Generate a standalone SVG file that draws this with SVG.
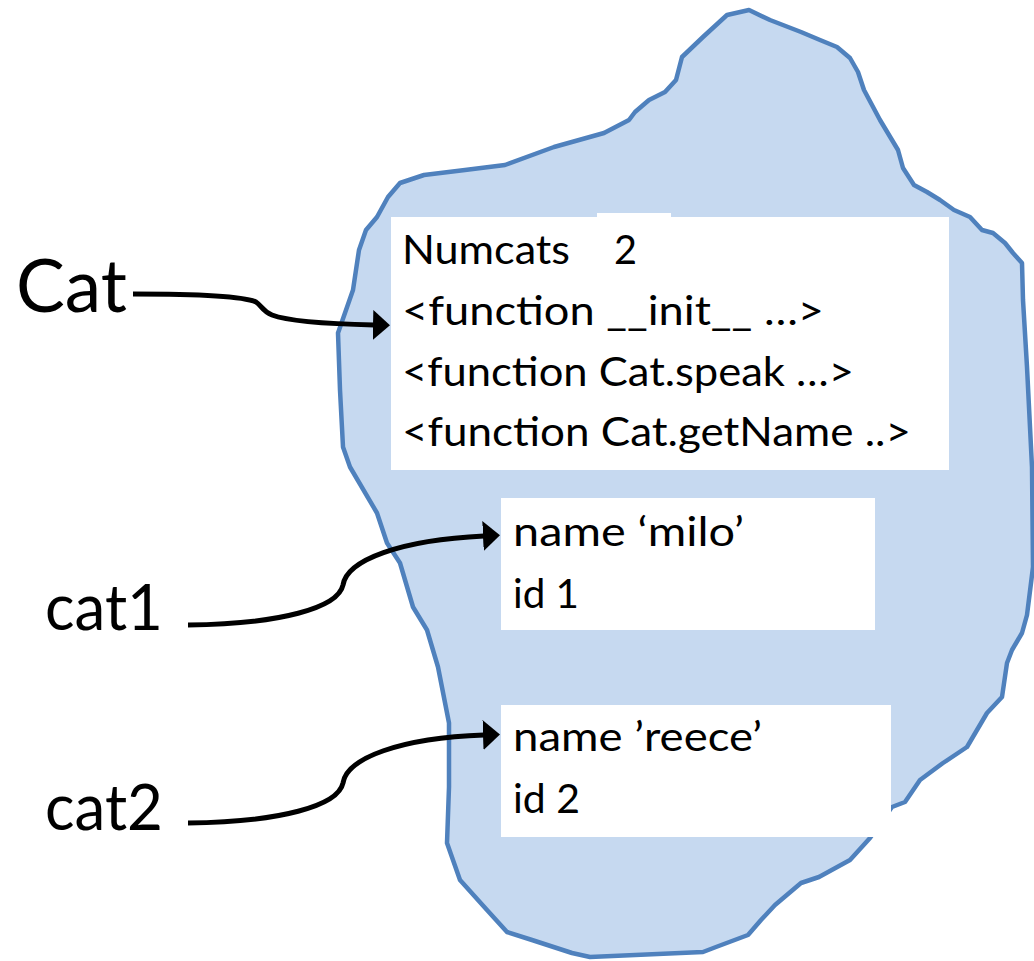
<svg xmlns="http://www.w3.org/2000/svg" width="1034" height="961" viewBox="0 0 1034 961">
<defs>
<style>
.blob{fill:#C6D9F0;stroke:#4F81BD;stroke-width:4.5;stroke-linejoin:round}
.box{fill:#FFFFFF}
.t{font-family:Lato,"Open Sans","Liberation Sans",sans-serif;font-size:41px;fill:#000}
.lbl{font-family:Lato,"Open Sans","Liberation Sans",sans-serif;fill:#000}
.conn{fill:none;stroke:#000;stroke-width:5;stroke-linecap:butt}
</style>
<marker id="arrow" viewBox="0 0 17 30" refX="1" refY="15" markerWidth="17" markerHeight="30" markerUnits="userSpaceOnUse" orient="auto">
<path d="M0,0 L17,15 L0,30 Z" fill="#000"/>
</marker>
</defs>
<rect width="1034" height="961" fill="#FFFFFF"/>
<g id="heap">
<polygon class="blob" points="749,10 770,20 801,32 820,40 837,47 850,58 858,72 864,90 880,120 898,150 903,168 914,185 927,192 940,200 954,210 970,217 982,230 993,233 1005,243 1013,253 1022,263 1023,300 1027,367 1032,467 1033,567 1027,615 1022,633 1012,650 1007,663 1002,697 987,713 967,747 943,763 920,780 905,802 892,807 870,838 850,860 819,877 801,883 775,905 761,920 748,935 716,947 703,952 590,957 572,953 532,940 507,932 487,910 460,880 447,843 449,787 449,723 438,667 427,630 413,607 400,563 387,543 377,513 350,467 343,447 340,390 338,333 353,290 359,250 366,230 377,217 388,197 400,183 424,175 465,170 505,165 554,147 604,133 629,120 635,112 649,100 665,92 676,80 682,57 703,37 727,15"/>
</g>
<g id="class-cat">
<rect class="box" x="391" y="217" width="558" height="253"/>
<rect class="box" x="597" y="213" width="74" height="6"/>
<text class="t" x="402" y="264" textLength="168" lengthAdjust="spacingAndGlyphs">Numcats</text>
<text class="t" x="614" y="264" textLength="23" lengthAdjust="spacingAndGlyphs">2</text>
<text class="t" x="402" y="325" textLength="422" lengthAdjust="spacingAndGlyphs">&lt;function __init__ …&gt;</text>
<text class="t" x="402" y="386" textLength="452" lengthAdjust="spacingAndGlyphs">&lt;function Cat.speak …&gt;</text>
<text class="t" x="402" y="446" textLength="509" lengthAdjust="spacingAndGlyphs">&lt;function Cat.getName ..&gt;</text>
</g>
<g id="obj-milo">
<rect class="box" x="501" y="498" width="374" height="132"/>
<text class="t" x="513" y="546" textLength="231" lengthAdjust="spacingAndGlyphs">name ‘milo’</text>
<text class="t" x="513" y="608" textLength="66" lengthAdjust="spacingAndGlyphs">id 1</text>
</g>
<g id="obj-reece">
<rect class="box" x="501" y="705" width="390" height="132"/>
<text class="t" x="513" y="751" textLength="249" lengthAdjust="spacingAndGlyphs">name ’reece’</text>
<text class="t" x="513" y="813" textLength="67" lengthAdjust="spacingAndGlyphs">id 2</text>
</g>
<g id="label-Cat">
<text class="lbl" x="16" y="312" font-size="74" textLength="111" lengthAdjust="spacingAndGlyphs">Cat</text>
</g>
<g id="label-cat1">
<text class="lbl" x="45" y="630" font-size="63" textLength="118" lengthAdjust="spacingAndGlyphs">cat1</text>
</g>
<g id="label-cat2">
<text class="lbl" x="45" y="830" font-size="63" textLength="118" lengthAdjust="spacingAndGlyphs">cat2</text>
</g>
<g id="connectors">
<path class="conn" marker-end="url(#arrow)" d="M133,294 C200,294 245,297 256,302 C262,306 262,311 272,315 C290,322 330,324 374,325"/>
<path class="conn" marker-end="url(#arrow)" d="M188,625 C280,624 338,608 343,585 C347,560 400,540 484,536"/>
<path class="conn" marker-end="url(#arrow)" d="M188,823 C280,822 338,806 343,783 C347,758 400,738 484,735"/>
</g>
</svg>
